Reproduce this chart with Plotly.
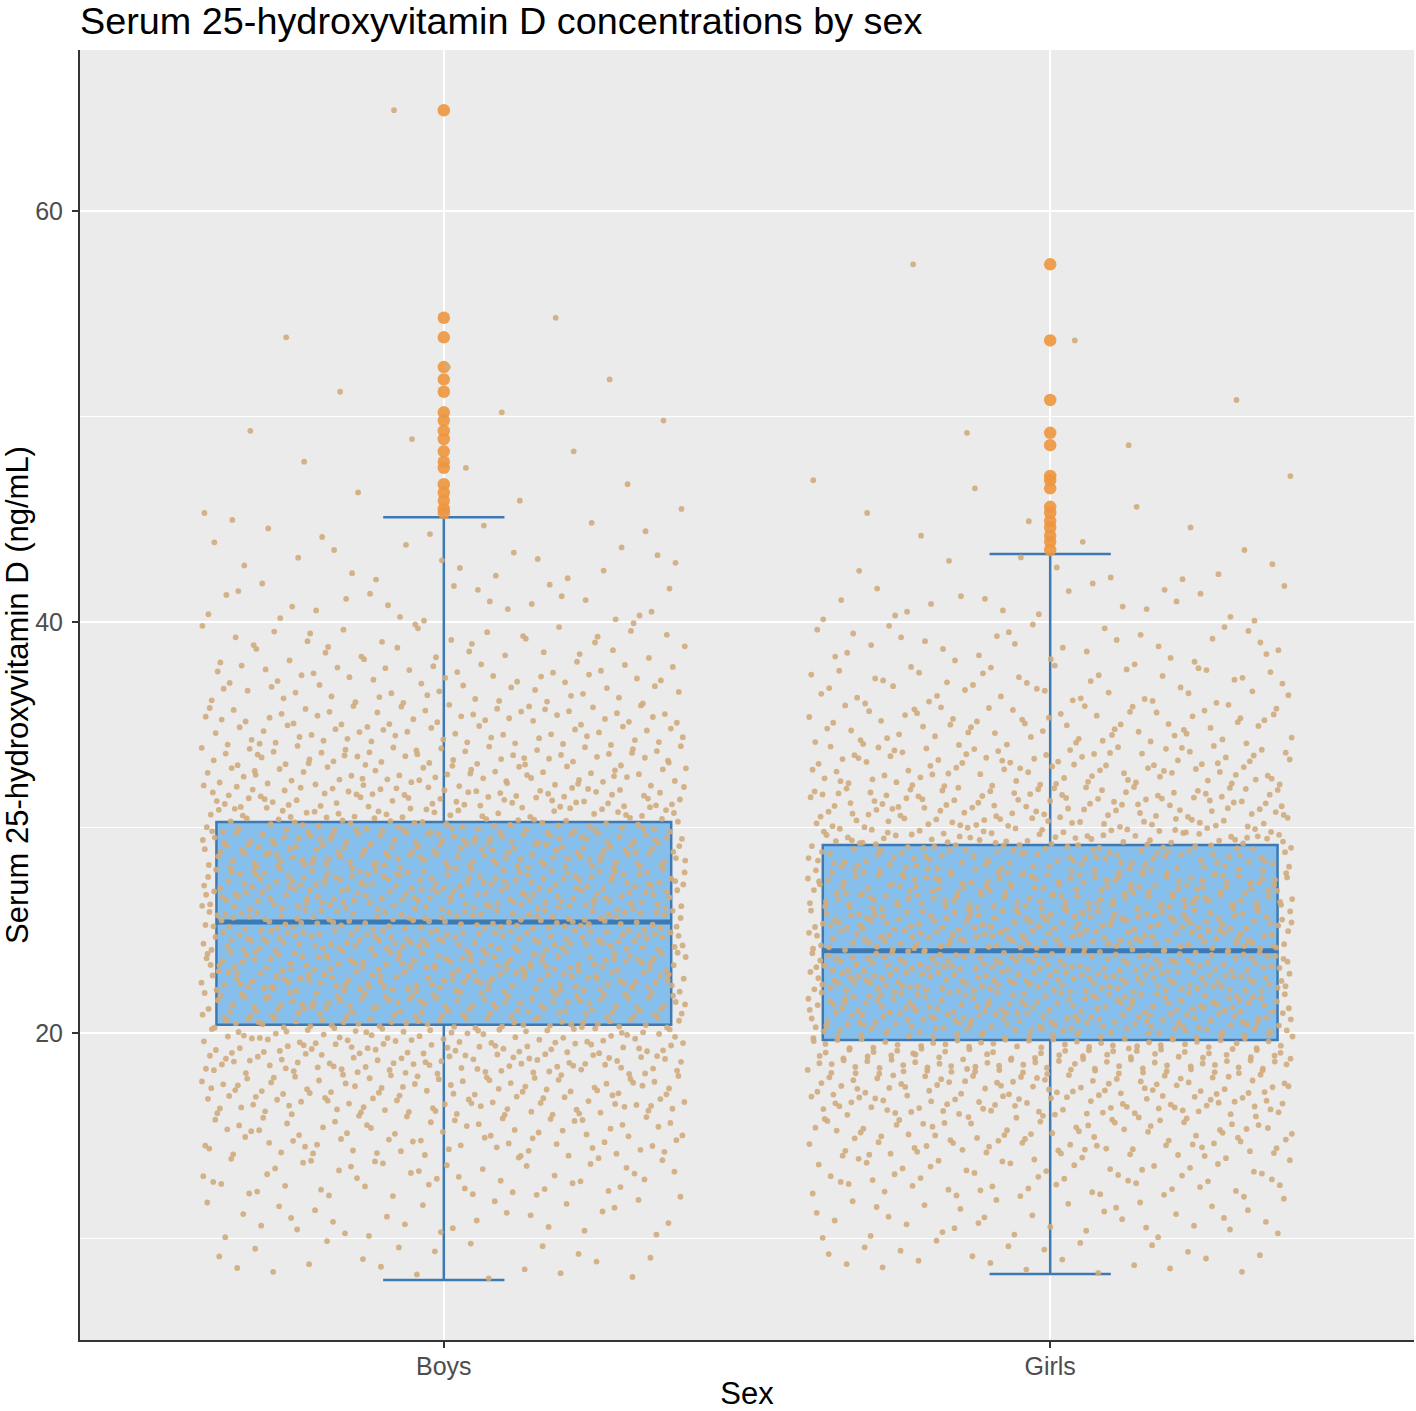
import plotly.graph_objects as go

# groups and box statistics (ng/mL)
sex = ["Boys", "Girls"]
positions = [1, 2]
q1 = [20.4, 19.66]
median = [25.4, 24.0]
q3 = [30.27, 29.15]
lower_whisker = [7.98, 8.27]
upper_whisker = [45.1, 43.3]

# outliers above the upper whisker (orange points)
boys_outliers = [64.9, 54.8, 53.85, 52.4, 51.8, 51.2, 50.2, 49.8, 49.3, 48.9,
                 48.3, 47.8, 47.5, 46.7, 46.3, 45.9, 45.5, 45.3]
girls_outliers = [57.4, 53.7, 50.8, 49.2, 48.6, 47.1, 46.9, 46.5, 45.6, 45.3,
                  44.9, 44.6, 44.2, 43.9, 43.5]

# estimated number of jittered observations per 2 ng/mL band (band start value)
bin_starts = [8, 10, 12, 14, 16, 18, 20, 22, 24, 26, 28, 30, 32, 34, 36, 38, 40, 42, 44]
boys_bin_counts = [20, 28, 48, 72, 105, 135, 165, 185, 190, 190, 175, 130, 100, 80, 55, 38, 24, 17, 7]
girls_bin_counts = [22, 35, 55, 85, 120, 160, 190, 210, 190, 180, 150, 120, 90, 65, 45, 30, 20, 8, 0]

BOX_W = 0.75
JITTER_W = 0.4


def radical_inverse(i, base):
    f, r = 1.0, 0.0
    while i > 0:
        f /= base
        r += f * (i % base)
        i //= base
    return r


def spread_values(counts, lo_w, hi_w, outliers):
    vals = []
    for j, n in enumerate(counts):
        lo = max(bin_starts[j], lo_w)
        hi = min(bin_starts[j] + 2, hi_w)
        for k in range(n):
            vals.append(lo + radical_inverse(k + 1, 2) * (hi - lo))
    return vals + list(outliers)


jit_x, jit_y = [], []
idx = 1
for g, (counts, outl) in enumerate([(boys_bin_counts, boys_outliers), (girls_bin_counts, girls_outliers)]):
    vals = spread_values(counts, lower_whisker[g], upper_whisker[g], outl)
    for v in vals:
        jit_x.append(positions[g] + (radical_inverse(idx, 3) - 0.5) * 2 * JITTER_W)
        jit_y.append(v)
        idx += 1

fig = go.Figure()

fig.add_trace(go.Box(
    x=positions, q1=q1, median=median, q3=q3,
    lowerfence=lower_whisker, upperfence=upper_whisker,
    boxpoints=False, width=BOX_W, whiskerwidth=0.2 / BOX_W,
    fillcolor="#86BFEB", line=dict(color="#3D7AB3", width=2.5),
    showlegend=False, hoverinfo="skip",
))

med_x, med_y = [], []
for p, m in zip(positions, median):
    med_x += [p - BOX_W / 2, p + BOX_W / 2, None]
    med_y += [m, m, None]
fig.add_trace(go.Scatter(x=med_x, y=med_y, mode="lines",
                         line=dict(color="#3D7AB3", width=5), showlegend=False, hoverinfo="skip"))

out_x = [positions[0]] * len(boys_outliers) + [positions[1]] * len(girls_outliers)
out_y = boys_outliers + girls_outliers
fig.add_trace(go.Scatter(x=out_x, y=out_y, mode="markers",
                         marker=dict(color="rgba(238,150,62,0.9)", size=12.5), showlegend=False))

fig.add_trace(go.Scatter(x=jit_x, y=jit_y, mode="markers",
                         marker=dict(color="rgba(208,172,126,0.9)", size=5.8), showlegend=False))

font = "Liberation Sans, Arial, sans-serif"
fig.update_layout(
    width=1416, height=1411,
    margin=dict(l=80, r=2, t=50, b=71),
    paper_bgcolor="white", plot_bgcolor="#EBEBEB",
    font=dict(family=font, color="black"),
    title=dict(text="Serum 25-hydroxyvitamin D concentrations by sex",
               x=0, xref="paper", xanchor="left",
               y=1 - 21 / 1411, yref="container", yanchor="middle",
               font=dict(size=37.8, color="black")),
)
fig.update_xaxes(
    range=[0.4, 2.6], tickvals=positions, ticktext=sex, automargin=False,
    showgrid=True, gridcolor="white", gridwidth=2, zeroline=False,
    showline=True, linecolor="#333333", linewidth=2,
    ticks="outside", ticklen=6, tickwidth=2, tickcolor="#333333",
    ticklabelstandoff=-3,
    tickfont=dict(size=25, color="#4D4D4D"),
    title=dict(text="Sex", font=dict(size=31, color="black"), standoff=16),
)
fig.update_yaxes(
    range=[5.06, 67.83], tickvals=[20, 40, 60], automargin=False,
    showgrid=True, gridcolor="white", gridwidth=2, zeroline=False,
    minor=dict(tickvals=[10, 30, 50], showgrid=True, gridcolor="white", gridwidth=1),
    showline=True, linecolor="#333333", linewidth=2,
    ticks="outside", ticklen=6, tickwidth=2, tickcolor="#333333",
    ticklabelstandoff=4,
    tickfont=dict(size=25, color="#4D4D4D"),
    title=dict(text="Serum 25-hydroxyvitamin D (ng/mL)", font=dict(size=31, color="black"), standoff=2),
)

fig.write_html("out.html", config={"displayModeBar": False},
               post_script="document.body.style.margin='0';")
